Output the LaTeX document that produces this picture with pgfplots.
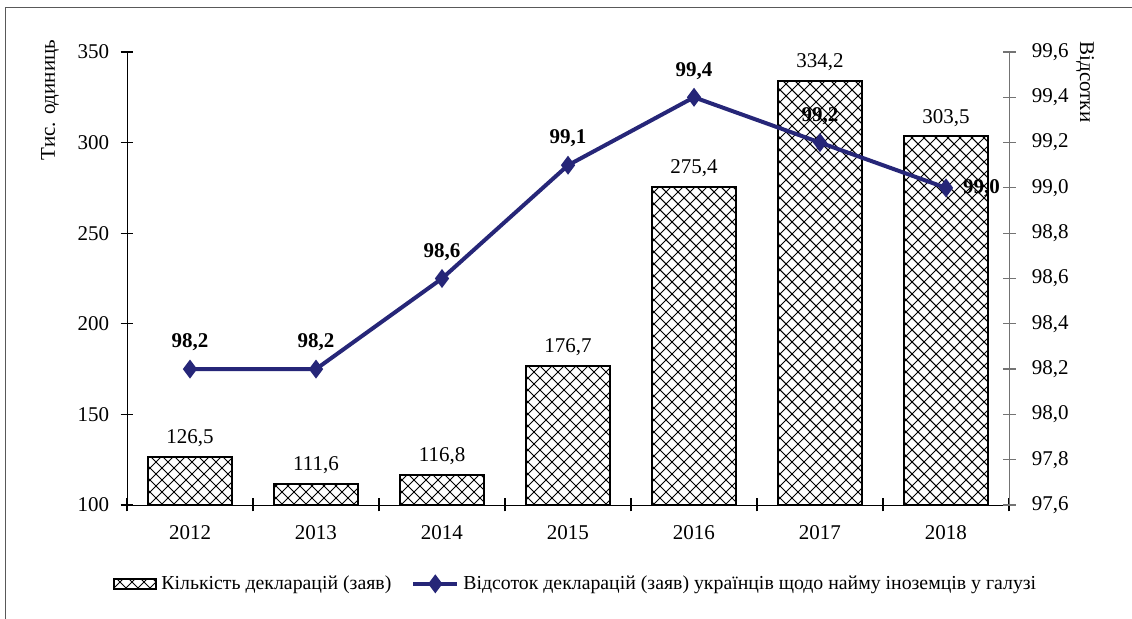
\documentclass[border=0pt]{standalone}
\usepackage{fontspec}
\setmainfont{Liberation Serif}
\usepackage{pgfplots}
\pgfplotsset{compat=1.18}
\usetikzlibrary{patterns}

% diagonal crosshatch used in the bars
\pgfdeclarepatternformonly{xhatch}{\pgfpoint{-0.1pt}{-0.1pt}}{\pgfpoint{6.1bp}{6.1bp}}{\pgfpoint{6bp}{6bp}}{
  \pgfsetlinewidth{0.5bp}
  \pgfpathmoveto{\pgfpoint{0pt}{0pt}}\pgfpathlineto{\pgfpoint{6bp}{6bp}}
  \pgfpathmoveto{\pgfpoint{0pt}{6bp}}\pgfpathlineto{\pgfpoint{6bp}{0pt}}
  \pgfusepath{stroke}}

\definecolor{navy}{RGB}{38,38,120}

\pgfplotsset{
  diamondlegend/.style={legend image code/.code={
    \draw[##1, mark repeat=2, mark phase=2] plot coordinates {(0bp,0bp) (11bp,0bp) (22bp,0bp)};}},
}

\pgfplotstableread{
year count
2012 126.5
2013 111.6
2014 116.8
2015 176.7
2016 275.4
2017 334.2
2018 303.5
}\counts

\pgfplotstableread{
year share
2012 98.2
2013 98.2
2014 98.6
2015 99.1
2016 99.4
2017 99.2
2018 99.0
}\shares

\begin{document}
\fontsize{10.5bp}{12.6bp}\selectfont
\begin{tikzpicture}[x=0.5bp,y=0.5bp]
\useasboundingbox (0,0) rectangle (1132,618);
\draw[black!65, line width=0.8bp] (5.5,-20) -- (5.5,610.5) -- (1150,610.5);

\begin{axis}[
  at={(63.5bp,56.5bp)}, anchor=south west, scale only axis,
  width=441bp, height=226.5bp,
  xmin=2011.5, xmax=2018.5, ymin=100, ymax=350,
  axis x line*=bottom, axis y line*=left, axis line style={-, black},
  xtick={2012,...,2018}, major x tick style={draw=none},
  minor xtick={2011.5,2012.5,...,2018.5},
  ytick={100,150,...,350},
  tick align=center, major tick length=6.5bp, minor tick length=6.5bp,
  tick style={black, line width=0.6bp},
  /pgf/number format/1000 sep={},
  /pgf/number format/assume math mode=true,
  xticklabel style={yshift=-3.5bp},
  yticklabel style={xshift=-2bp},
  clip mode=individual,
]
\addplot[ybar, bar width=42bp, draw=black, line width=1bp, pattern=xhatch,
  nodes near coords={\pgfmathprintnumber[use comma,fixed,fixed zerofill,precision=1,assume math mode=true]{\pgfplotspointmeta}},
  every node near coord/.append style={black, yshift=1bp}]
  table[x=year, y=count] {\counts};
\end{axis}

\begin{axis}[
  at={(63.5bp,56.5bp)}, anchor=south west, scale only axis,
  width=441bp, height=226.5bp,
  xmin=2011.5, xmax=2018.5, ymin=97.6, ymax=99.6,
  axis x line=none, axis y line*=right, axis line style={-, black!55},
  ytick={97.6,97.8,98.0,98.2,98.4,98.6,98.8,99.0,99.2,99.4,99.6},
  yticklabel={\pgfmathprintnumber[use comma,fixed,fixed zerofill,precision=1,assume math mode=true]{\tick}},
  yticklabel style={xshift=4.5bp},
  tick align=center, major tick length=6.5bp,
  ytick style={black!55, line width=0.6bp},
  clip=false,
  legend style={at={(0.51,-0.174)}, anchor=center, draw=none, fill=none,
    legend columns=2, font=\fontsize{9.9bp}{12bp}\selectfont,
    /tikz/every even column/.append style={column sep=8bp},
    legend cell align=left},
]
\addlegendimage{legend image code/.code={
  \draw[pattern=xhatch, draw=black, line width=1bp] (0bp,-2.5bp) rectangle (21bp,2.5bp);}}
\addlegendentry{Кількість декларацій (заяв)}

\addplot[navy, line width=2bp, mark=diamond*, mark size=3.1bp,
  mark options={solid, fill=navy}, diamondlegend,
  nodes near coords={\bfseries\pgfmathprintnumber[use comma,fixed,fixed zerofill,precision=1,assume math mode=true]{\pgfplotspointmeta}},
  every node near coord/.append style={black, yshift=4.5bp, font=\bfseries},
  coordinate style/.condition={x==2018}{anchor=west, yshift=-4.5bp, xshift=4bp}]
  table[x=year, y=share] {\shares};
\addlegendentry{Відсоток декларацій (заяв) українців щодо найму іноземців у галузі}
\end{axis}

\node[rotate=90] at (50,518) {Тис. одиниць};
\node[rotate=-90] at (1085,536) {Відсотки};
\end{tikzpicture}
\end{document}
